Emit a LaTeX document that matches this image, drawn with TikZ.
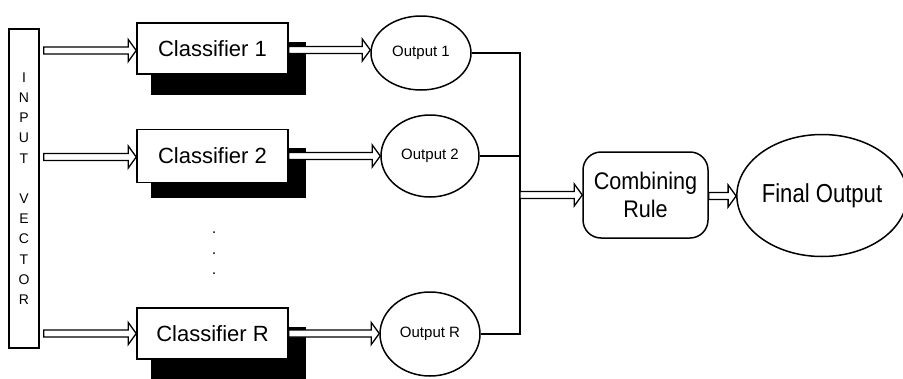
\documentclass[tikz,border=0pt]{standalone}
\usepackage{fontspec}
\setmainfont{Liberation Sans}
\newfontfamily\narrowA[FakeStretch=0.9]{Liberation Sans}
\newfontfamily\narrowB[FakeStretch=0.85]{Liberation Sans}
\usetikzlibrary{shapes.geometric,calc}
\tikzset{
  box/.style={draw, line width=1.5pt, fill=white, rectangle, inner sep=0pt, font=\fontsize{22}{26}\selectfont},
  shadowbox/.style={fill=black},
  outell/.style={draw, line width=1.5pt, fill=white, ellipse, inner sep=0pt, font=\fontsize{15}{18}\selectfont},
  conn/.style={line width=1.4pt},
  fatarr/.style={draw, line width=1.3pt, fill=white, line join=miter},
  dotmark/.style={fill=black}
}
\newcommand\fatarrow[2]{%
  \path[fatarr] let \p1=(#1), \p2=(#2) in
    (\x1,\y1+3.5pt) -- (\x2-8pt,\y1+3.5pt) -- (\x2-8pt,\y1+11pt) -- (\x2,\y1)
    -- (\x2-8pt,\y1-11pt) -- (\x2-8pt,\y1-3.5pt) -- (\x1,\y1-3.5pt) -- cycle;}
\begin{document}
\begin{tikzpicture}[x=1pt,y=-1pt]
\useasboundingbox (0,0) rectangle (903,378);
% input vector
\node[draw, line width=1.5pt, minimum width=30pt, minimum height=319pt, inner sep=0pt,
      align=center, font=\fontsize{14}{20.2}\selectfont] (inv) at (24,188.5)
  {I\\N\\P\\U\\T\\[20.2pt]V\\E\\C\\T\\O\\R};
% shadows
\fill[shadowbox] (151,42) rectangle (306,95);
\fill[shadowbox] (151,148) rectangle (306,198);
\fill[shadowbox] (151,327) rectangle (306,380);
% classifiers
\node[box, minimum width=151pt, minimum height=51pt] (c1) at (212.5,48.5) {Classifier 1};
\node[box, minimum width=151pt, minimum height=53pt] (c2) at (212.5,156) {Classifier 2};
\node[box, minimum width=151pt, minimum height=51pt] (cR) at (212.5,333.5) {Classifier R};
% dots
\fill[dotmark] (214,232) circle (1pt);
\fill[dotmark] (214,253) circle (1pt);
\fill[dotmark] (214,273) circle (1pt);
% outputs
\node[outell, minimum width=100pt, minimum height=74pt] (o1) at (421,53) {Output 1};
\node[outell, minimum width=98pt, minimum height=82pt] (o2) at (430,156) {Output 2};
\node[outell, minimum width=100pt, minimum height=84pt] (oR) at (430,334) {Output R};
% combining rule and final
\node[box, rounded corners=18pt, minimum width=125pt, minimum height=86pt, align=center,
      font=\narrowA\fontsize{24}{28}\selectfont] (comb) at (645.5,195) {Combining\\Rule};
\node[outell, minimum width=159pt, minimum height=122pt, font=\narrowB\fontsize{26}{30}\selectfont] (fin) at (822,195.5) {Final Output};
% input arrows
\coordinate (a1) at ($(inv.east |- c1.west)+(4,2)$);
\coordinate (a2) at ($(inv.east |- c2.west)+(4,1)$);
\coordinate (aR) at ($(inv.east |- cR.west)+(4,0)$);
\fatarrow{a1}{c1.west}
\fatarrow{a2}{c2.west}
\fatarrow{aR}{cR.west}
% classifier to output arrows
\coordinate (b1) at ($(c1.east)+(0,1.5)$);
\coordinate (b2) at ($(c2.east)+(0,0)$);
\coordinate (bR) at ($(cR.east)+(0,0)$);
\fatarrow{b1}{o1.west}
\fatarrow{b2}{o2.west}
\fatarrow{bR}{oR.west}
% bus
\coordinate (bus) at (520,334);
\coordinate (busmid) at (520,195);
\draw[conn] (o1.east) -| (bus) -- (oR.east);
\draw[conn] (o2.east) -- (o2.east -| bus);
\fatarrow{busmid}{comb.west}
\coordinate (cmid) at ($(comb.east)+(0,1)$);
\fatarrow{cmid}{fin.west}
\end{tikzpicture}
\end{document}
